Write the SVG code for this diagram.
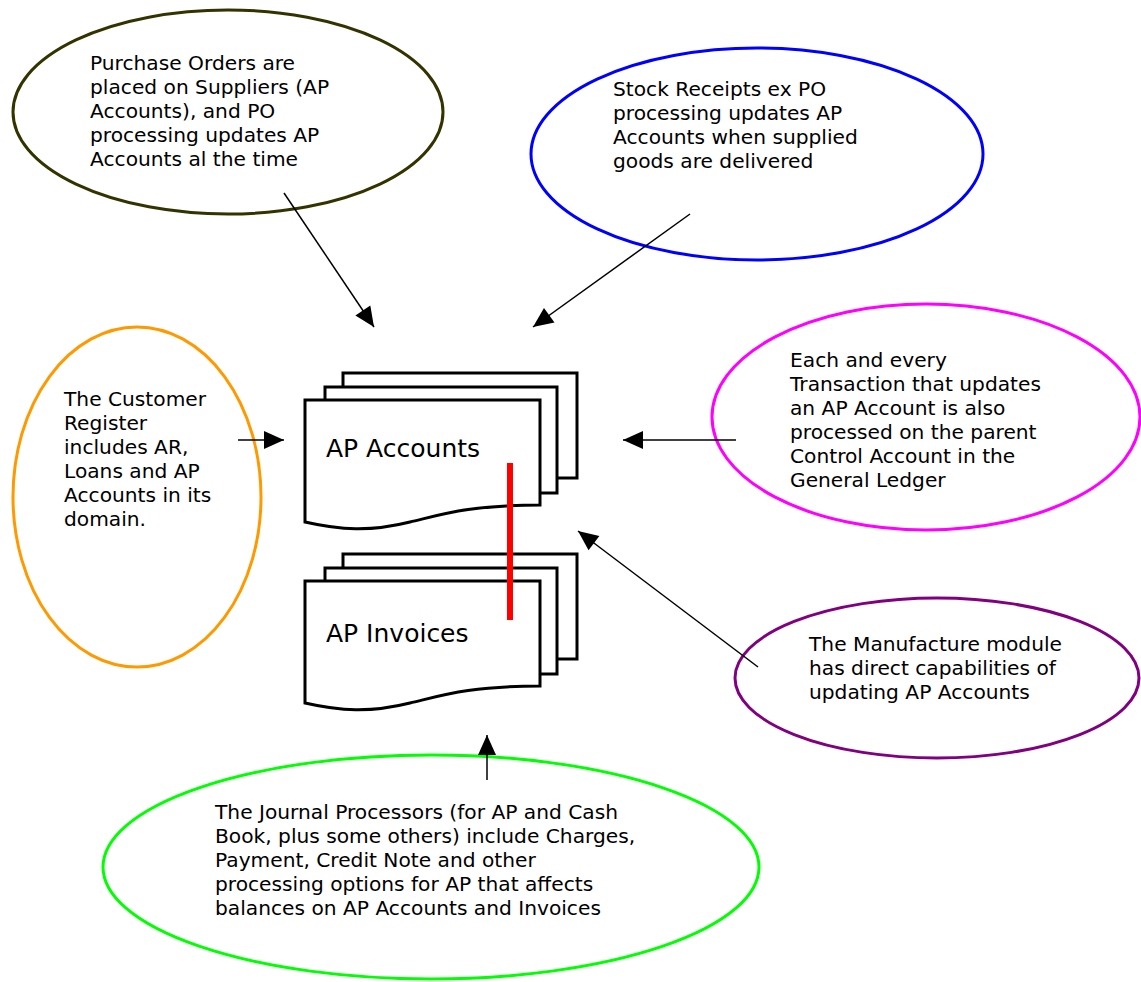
<svg xmlns="http://www.w3.org/2000/svg" width="1141" height="982" viewBox="0 0 1141 982">
<style>
text{font-family:"DejaVu Sans",Verdana,sans-serif;font-size:20.2px;fill:#000}
.doc{fill:#fff;stroke:#000;stroke-width:3;stroke-linejoin:miter}
.ell{fill:#fff;stroke-width:3}
.big{font-size:25px}
.conn{stroke:#000;stroke-width:1.5;fill:none;marker-end:url(#ah)}
</style>
<defs>
<marker id="ah" markerUnits="userSpaceOnUse" markerWidth="20" markerHeight="18" refX="20" refY="9" orient="auto" overflow="visible">
<path d="M0,0 L20,9 L0,18 Z" fill="#000"/>
</marker>
</defs>
<rect width="1141" height="982" fill="#fff"/>
<g id="po">
<ellipse class="ell" cx="228" cy="112" rx="215" ry="102" stroke="#333300"/>
<text x="90" y="70">Purchase Orders are</text>
<text x="90" y="94">placed on Suppliers (AP</text>
<text x="90" y="118">Accounts), and PO</text>
<text x="90" y="142">processing updates AP</text>
<text x="90" y="166">Accounts al the time</text>
</g>
<g id="stock">
<ellipse class="ell" cx="757" cy="154" rx="226" ry="106" stroke="#0000ff"/>
<text x="613" y="96">Stock Receipts ex PO</text>
<text x="613" y="120">processing updates AP</text>
<text x="613" y="144">Accounts when supplied</text>
<text x="613" y="168">goods are delivered</text>
</g>
<g id="customer">
<ellipse class="ell" cx="137" cy="497" rx="124" ry="170" stroke="#ff9900"/>
<text x="64" y="406">The Customer</text>
<text x="64" y="430">Register</text>
<text x="64" y="454">includes AR,</text>
<text x="64" y="478">Loans and AP</text>
<text x="64" y="502">Accounts in its</text>
<text x="64" y="526">domain.</text>
</g>
<g id="gl">
<ellipse class="ell" cx="926" cy="417" rx="214" ry="113" stroke="#ff00ff"/>
<text x="790" y="367">Each and every</text>
<text x="790" y="391">Transaction that updates</text>
<text x="790" y="415">an AP Account is also</text>
<text x="790" y="439">processed on the parent</text>
<text x="790" y="463">Control Account in the</text>
<text x="790" y="487">General Ledger</text>
</g>
<g id="manufacture">
<ellipse class="ell" cx="937" cy="678" rx="202" ry="80" stroke="#800080"/>
<text x="809" y="651">The Manufacture module</text>
<text x="809" y="675">has direct capabilities of</text>
<text x="809" y="699">updating AP Accounts</text>
</g>
<g id="journal">
<ellipse class="ell" cx="431" cy="867" rx="328" ry="112" stroke="#00ff00"/>
<text x="215" y="819">The Journal Processors (for AP and Cash</text>
<text x="215" y="843">Book, plus some others) include Charges,</text>
<text x="215" y="867">Payment, Credit Note and other</text>
<text x="215" y="891">processing options for AP that affects</text>
<text x="215" y="915">balances on AP Accounts and Invoices</text>
</g>
<g id="ap-accounts">
<rect class="doc" x="343" y="373" width="234" height="105"/>
<rect class="doc" x="325" y="387" width="232" height="106"/>
<path class="doc" d="M305,400 H540 V505 C470,505 440,515 410,522 C370,532 340,530 305,522 Z"/>
<text class="big" x="326" y="457">AP Accounts</text>
</g>
<g id="ap-invoices">
<rect class="doc" x="343" y="554" width="234" height="105"/>
<rect class="doc" x="325" y="568" width="232" height="106"/>
<path class="doc" d="M305,581 H540 V686 C470,686 440,696 410,703 C370,713 340,711 305,703 Z"/>
<text class="big" x="326" y="642">AP Invoices</text>
</g>
<g id="connectors">
<line x1="510" y1="463" x2="510" y2="620" stroke="#ff0000" stroke-width="6"/>
<line class="conn" x1="284" y1="193" x2="374" y2="327"/>
<line class="conn" x1="690" y1="214" x2="533" y2="327"/>
<line class="conn" x1="238" y1="440" x2="284" y2="440"/>
<line class="conn" x1="736" y1="440" x2="623" y2="440"/>
<line class="conn" x1="758" y1="667" x2="578" y2="531"/>
<line class="conn" x1="487" y1="780" x2="487" y2="735"/>
</g>
</svg>
